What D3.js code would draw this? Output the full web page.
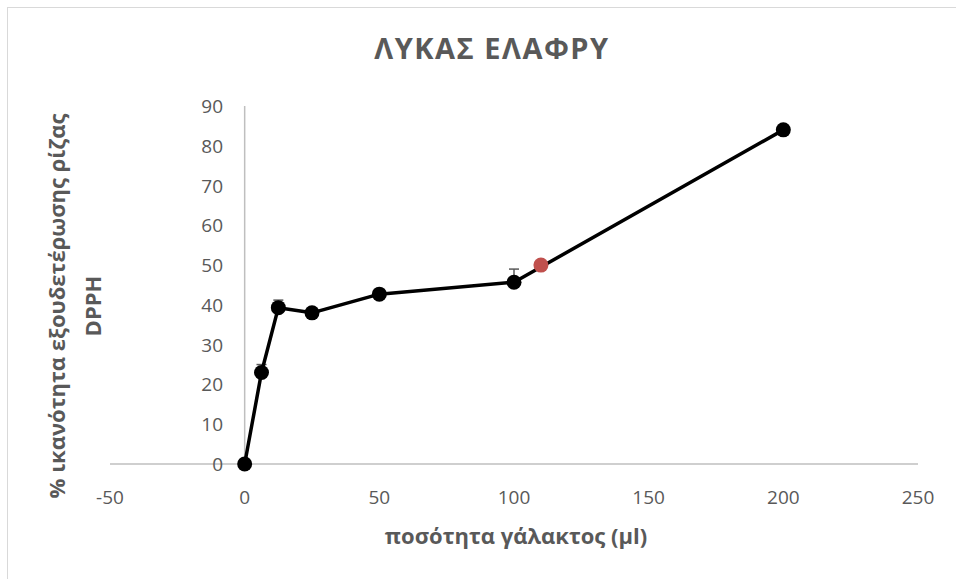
<!DOCTYPE html>
<html>
<head>
<meta charset="utf-8">
<script src="https://cdn.jsdelivr.net/npm/d3@7"></script>
<style>
  body { margin: 0; background: #fff; }
  svg { display: block; font-family: "Open Sans", sans-serif; }
</style>
</head>
<body>
<div id="chart"></div>
<script>
// values
const milkVolumes = [0, 6.25, 12.5, 25, 50, 100, 200];
const scavenging = [0, 23, 39.3, 38, 42.7, 45.7, 84];
const errorPlus = [0, 2, 1.9, 0, 0, 3.3, 0];
const ic50Point = [110, 50];
const xTicks = [-50, 0, 50, 100, 150, 200, 250];
const yTicks = [0, 10, 20, 30, 40, 50, 60, 70, 80, 90];

const width = 956;
const height = 579;
const grey = '#595959';

const svg = d3.select('#chart').append('svg')
    .attr('width', width)
    .attr('height', height);

// outer chart frame (only top/left visible in the crop)
svg.append('rect')
    .attr('x', 7.5).attr('y', 7.5)
    .attr('width', 960).attr('height', 600)
    .attr('fill', 'none')
    .attr('stroke', '#d9d9d9');

const x = d3.scaleLinear().domain([-50, 250]).range([110, 918]);
const y = d3.scaleLinear().domain([0, 90]).range([464, 106]);

// title
svg.append('text')
    .attr('x', 492).attr('y', 59)
    .attr('text-anchor', 'middle')
    .attr('font-size', 29).attr('font-weight', 'bold')
    .attr('letter-spacing', 1.5)
    .attr('fill', grey)
    .text('ΛΥΚΑΣ ΕΛΑΦΡΥ');

// axis lines crossing at 0
svg.append('line')
    .attr('x1', x(-50)).attr('x2', x(250))
    .attr('y1', y(0)).attr('y2', y(0))
    .attr('stroke', '#bfbfbf').attr('stroke-width', 1.5);

svg.append('line')
    .attr('x1', x(0)).attr('x2', x(0))
    .attr('y1', y(0)).attr('y2', y(90))
    .attr('stroke', '#bfbfbf').attr('stroke-width', 1.5);

svg.append('g').selectAll('text')
    .data(xTicks)
    .enter().append('text')
    .attr('x', d => x(d))
    .attr('y', 504)
    .attr('text-anchor', 'middle')
    .attr('font-size', 19)
    .attr('fill', grey)
    .text(d => d);

svg.append('g').selectAll('text')
    .data(yTicks)
    .enter().append('text')
    .attr('x', 223)
    .attr('y', d => y(d) + 7)
    .attr('text-anchor', 'end')
    .attr('font-size', 19)
    .attr('fill', grey)
    .text(d => d);

// axis titles
svg.append('text')
    .attr('x', 516).attr('y', 544)
    .attr('text-anchor', 'middle')
    .attr('font-size', 22).attr('font-weight', 'bold')
    .attr('fill', grey)
    .text('ποσότητα γάλακτος (μl)');

const yTitle = svg.append('text')
    .attr('transform', 'translate(0,306) rotate(-90)')
    .attr('text-anchor', 'middle')
    .attr('font-size', 22).attr('font-weight', 'bold')
    .attr('fill', grey);
yTitle.append('tspan').attr('x', 0).attr('y', 65)
    .text('% ικανότητα εξουδετέρωσης ρίζας');
yTitle.append('tspan').attr('x', 0).attr('y', 101)
    .text('DPPH');

// series
const points = milkVolumes.map((v, i) => ({ x: v, y: scavenging[i], e: errorPlus[i] }));

// error bars (plus side only)
const errs = svg.append('g').attr('stroke', grey).attr('stroke-width', 1.5);
points.filter(d => d.e > 0).forEach(d => {
    errs.append('line')
        .attr('x1', x(d.x)).attr('x2', x(d.x))
        .attr('y1', y(d.y)).attr('y2', y(d.y + d.e));
    errs.append('line')
        .attr('x1', x(d.x) - 5).attr('x2', x(d.x) + 5)
        .attr('y1', y(d.y + d.e)).attr('y2', y(d.y + d.e));
});

const line = d3.line().x(d => x(d.x)).y(d => y(d.y));
svg.append('path')
    .datum(points)
    .attr('d', line)
    .attr('fill', 'none')
    .attr('stroke', '#000')
    .attr('stroke-width', 3.5)
    .attr('stroke-linejoin', 'round');

svg.append('g').selectAll('circle')
    .data(points)
    .enter().append('circle')
    .attr('cx', d => x(d.x))
    .attr('cy', d => y(d.y))
    .attr('r', 7.5)
    .attr('fill', '#000');

svg.append('circle')
    .attr('cx', x(ic50Point[0]))
    .attr('cy', y(ic50Point[1]))
    .attr('r', 7.5)
    .attr('fill', '#c0504d');
</script>
</body>
</html>
